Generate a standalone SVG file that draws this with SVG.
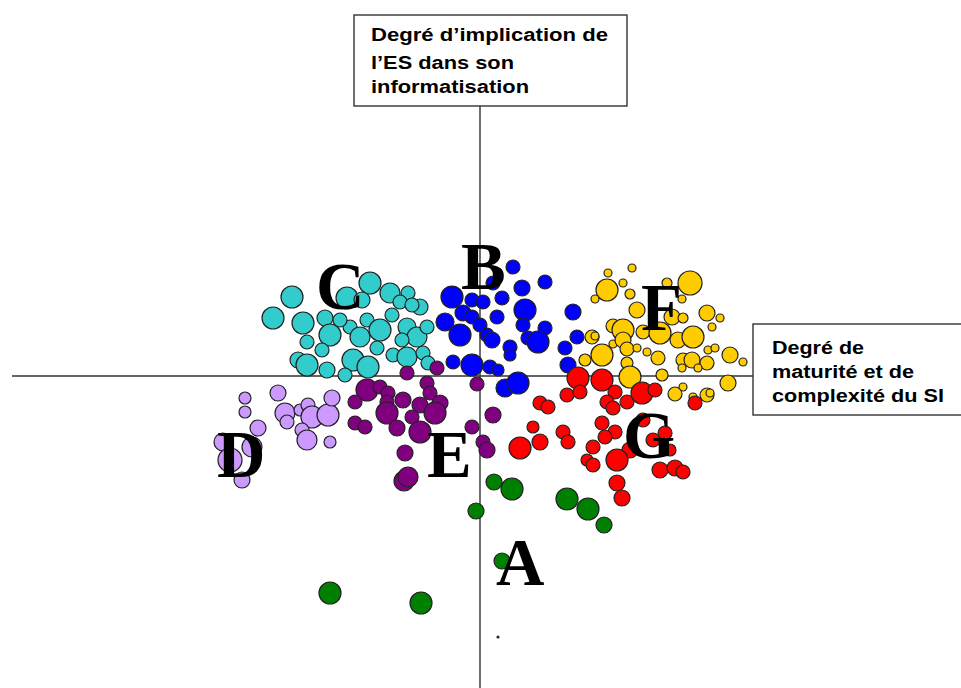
<svg xmlns="http://www.w3.org/2000/svg" width="961" height="688" viewBox="0 0 961 688">
  <style>
    .axis { stroke: #333; stroke-width: 1.4; fill: none; }
    .box { fill: #fff; stroke: #333; stroke-width: 1.4; }
    .lbl { font-family: "Liberation Sans", Arial, sans-serif; font-weight: bold; fill: #000; }
    .cl { font-family: "Liberation Serif", "Times New Roman", serif; font-weight: bold; font-size: 67px; fill: #000; }
    circle { stroke: #222; stroke-width: 1.2; }
    .cy circle { fill: #33CCCC; }
    .bl circle { fill: #0000FF; }
    .ye circle { fill: #FFCC00; }
    .rd circle { fill: #FF0000; }
    .gr circle { fill: #008000; }
    .pu circle { fill: #800080; }
    .li circle { fill: #CC99FF; }
  </style>

  <!-- axes -->
  <g id="axes">
    <line class="axis" x1="12" y1="376" x2="753" y2="376"/>
    <line class="axis" x1="480" y1="106" x2="480" y2="688"/>
  </g>

  <!-- cluster C -->
  <g id="cluster-C" class="cy">
    <circle cx="292" cy="297" r="11"/>
    <circle cx="273" cy="318" r="11"/>
    <circle cx="303" cy="323" r="11"/>
    <circle cx="370" cy="283" r="11"/>
    <circle cx="347" cy="298" r="11"/>
    <circle cx="362" cy="300" r="8"/>
    <circle cx="390" cy="293" r="10"/>
    <circle cx="408" cy="293" r="7"/>
    <circle cx="400" cy="302" r="7"/>
    <circle cx="420" cy="307" r="8"/>
    <circle cx="325" cy="318" r="8"/>
    <circle cx="330" cy="335" r="11"/>
    <circle cx="350" cy="327" r="7"/>
    <circle cx="367" cy="320" r="7"/>
    <circle cx="360" cy="337" r="10"/>
    <circle cx="380" cy="330" r="11"/>
    <circle cx="392" cy="315" r="7"/>
    <circle cx="407" cy="327" r="9"/>
    <circle cx="417" cy="337" r="10"/>
    <circle cx="427" cy="327" r="7"/>
    <circle cx="307" cy="342" r="7"/>
    <circle cx="322" cy="350" r="7"/>
    <circle cx="298" cy="360" r="8"/>
    <circle cx="307" cy="365" r="11"/>
    <circle cx="327" cy="370" r="8"/>
    <circle cx="353" cy="360" r="11"/>
    <circle cx="368" cy="367" r="11"/>
    <circle cx="377" cy="348" r="7"/>
    <circle cx="402" cy="340" r="7"/>
    <circle cx="393" cy="355" r="7"/>
    <circle cx="407" cy="357" r="10"/>
    <circle cx="423" cy="353" r="7"/>
    <circle cx="428" cy="363" r="7"/>
    <circle cx="345" cy="375" r="7"/>
    <circle cx="340" cy="320" r="7"/>
    <circle cx="412" cy="305" r="7"/>
  </g>

  <!-- cluster B -->
  <g id="cluster-B" class="bl">
    <circle cx="513" cy="267" r="7"/>
    <circle cx="493" cy="283" r="7"/>
    <circle cx="522" cy="288" r="8"/>
    <circle cx="545" cy="282" r="7"/>
    <circle cx="452" cy="297" r="11"/>
    <circle cx="472" cy="300" r="7"/>
    <circle cx="483" cy="302" r="7"/>
    <circle cx="502" cy="298" r="7"/>
    <circle cx="525" cy="310" r="11"/>
    <circle cx="463" cy="313" r="8"/>
    <circle cx="445" cy="322" r="9"/>
    <circle cx="472" cy="317" r="7"/>
    <circle cx="497" cy="317" r="7"/>
    <circle cx="480" cy="325" r="7"/>
    <circle cx="460" cy="335" r="11"/>
    <circle cx="487" cy="335" r="7"/>
    <circle cx="492" cy="340" r="8"/>
    <circle cx="523" cy="325" r="7"/>
    <circle cx="545" cy="328" r="7"/>
    <circle cx="528" cy="338" r="7"/>
    <circle cx="538" cy="342" r="11"/>
    <circle cx="573" cy="312" r="8"/>
    <circle cx="577" cy="337" r="7"/>
    <circle cx="565" cy="348" r="7"/>
    <circle cx="568" cy="365" r="8"/>
    <circle cx="510" cy="347" r="7"/>
    <circle cx="510" cy="355" r="6"/>
    <circle cx="453" cy="362" r="7"/>
    <circle cx="472" cy="365" r="11"/>
    <circle cx="490" cy="367" r="7"/>
    <circle cx="498" cy="370" r="6"/>
    <circle cx="505" cy="388" r="9"/>
    <circle cx="518" cy="383" r="11"/>
  </g>

  <!-- cluster F -->
  <g id="cluster-F" class="ye">
    <circle cx="632" cy="268" r="4"/>
    <circle cx="608" cy="273" r="4"/>
    <circle cx="690" cy="283" r="12"/>
    <circle cx="623" cy="283" r="4"/>
    <circle cx="607" cy="290" r="11"/>
    <circle cx="630" cy="294" r="5"/>
    <circle cx="595" cy="299" r="4"/>
    <circle cx="667" cy="283" r="5"/>
    <circle cx="637" cy="310" r="8"/>
    <circle cx="682" cy="299" r="4"/>
    <circle cx="707" cy="313" r="8"/>
    <circle cx="720" cy="318" r="4"/>
    <circle cx="712" cy="327" r="4"/>
    <circle cx="613" cy="326" r="7"/>
    <circle cx="623" cy="330" r="11"/>
    <circle cx="643" cy="332" r="7"/>
    <circle cx="672" cy="317" r="8"/>
    <circle cx="683" cy="318" r="5"/>
    <circle cx="660" cy="333" r="11"/>
    <circle cx="678" cy="340" r="8"/>
    <circle cx="693" cy="337" r="11"/>
    <circle cx="592" cy="337" r="7"/>
    <circle cx="595" cy="336" r="4"/>
    <circle cx="613" cy="344" r="4"/>
    <circle cx="623" cy="340" r="8"/>
    <circle cx="602" cy="355" r="11"/>
    <circle cx="585" cy="360" r="6"/>
    <circle cx="627" cy="349" r="7"/>
    <circle cx="637" cy="348" r="4"/>
    <circle cx="647" cy="352" r="4"/>
    <circle cx="658" cy="358" r="7"/>
    <circle cx="627" cy="363" r="6"/>
    <circle cx="683" cy="360" r="7"/>
    <circle cx="692" cy="360" r="8"/>
    <circle cx="707" cy="363" r="7"/>
    <circle cx="708" cy="350" r="4"/>
    <circle cx="715" cy="348" r="4"/>
    <circle cx="730" cy="355" r="8"/>
    <circle cx="743" cy="362" r="4"/>
    <circle cx="682" cy="368" r="4"/>
    <circle cx="698" cy="368" r="4"/>
    <circle cx="662" cy="375" r="6"/>
    <circle cx="630" cy="377" r="11"/>
    <circle cx="728" cy="383" r="8"/>
    <circle cx="683" cy="387" r="4"/>
    <circle cx="675" cy="394" r="7"/>
    <circle cx="693" cy="397" r="4"/>
    <circle cx="707" cy="395" r="7"/>
    <circle cx="710" cy="393" r="4"/>
  </g>

  <!-- cluster G -->
  <g id="cluster-G" class="rd">
    <circle cx="578" cy="378" r="11"/>
    <circle cx="602" cy="380" r="11"/>
    <circle cx="567" cy="395" r="7"/>
    <circle cx="580" cy="392" r="7"/>
    <circle cx="540" cy="403" r="7"/>
    <circle cx="548" cy="407" r="7"/>
    <circle cx="615" cy="392" r="7"/>
    <circle cx="607" cy="402" r="7"/>
    <circle cx="627" cy="402" r="7"/>
    <circle cx="642" cy="393" r="11"/>
    <circle cx="613" cy="408" r="7"/>
    <circle cx="655" cy="390" r="7"/>
    <circle cx="695" cy="403" r="7"/>
    <circle cx="643" cy="420" r="7"/>
    <circle cx="602" cy="423" r="7"/>
    <circle cx="615" cy="432" r="7"/>
    <circle cx="605" cy="437" r="7"/>
    <circle cx="563" cy="432" r="7"/>
    <circle cx="568" cy="442" r="7"/>
    <circle cx="533" cy="427" r="6"/>
    <circle cx="540" cy="442" r="8"/>
    <circle cx="520" cy="448" r="11"/>
    <circle cx="593" cy="447" r="7"/>
    <circle cx="587" cy="460" r="6"/>
    <circle cx="593" cy="465" r="7"/>
    <circle cx="630" cy="450" r="8"/>
    <circle cx="617" cy="460" r="11"/>
    <circle cx="653" cy="440" r="7"/>
    <circle cx="665" cy="433" r="7"/>
    <circle cx="670" cy="450" r="6"/>
    <circle cx="660" cy="470" r="8"/>
    <circle cx="675" cy="468" r="8"/>
    <circle cx="683" cy="472" r="7"/>
    <circle cx="617" cy="483" r="8"/>
    <circle cx="622" cy="498" r="8"/>
  </g>

  <!-- cluster D -->
  <g id="cluster-D" class="li">
    <circle cx="278" cy="393" r="8"/>
    <circle cx="245" cy="398" r="6"/>
    <circle cx="245" cy="412" r="6"/>
    <circle cx="285" cy="413" r="10"/>
    <circle cx="287" cy="422" r="7"/>
    <circle cx="300" cy="410" r="6"/>
    <circle cx="308" cy="405" r="7"/>
    <circle cx="312" cy="417" r="11"/>
    <circle cx="328" cy="415" r="11"/>
    <circle cx="332" cy="398" r="8"/>
    <circle cx="302" cy="430" r="7"/>
    <circle cx="307" cy="440" r="10"/>
    <circle cx="330" cy="442" r="6"/>
    <circle cx="258" cy="428" r="8"/>
    <circle cx="252" cy="447" r="10"/>
    <circle cx="223" cy="442" r="9"/>
    <circle cx="230" cy="460" r="12"/>
    <circle cx="242" cy="480" r="8"/>
  </g>

  <!-- cluster E -->
  <g id="cluster-E" class="pu">
    <circle cx="407" cy="373" r="7"/>
    <circle cx="437" cy="368" r="7"/>
    <circle cx="367" cy="390" r="11"/>
    <circle cx="380" cy="387" r="7"/>
    <circle cx="388" cy="393" r="7"/>
    <circle cx="387" cy="402" r="7"/>
    <circle cx="403" cy="400" r="8"/>
    <circle cx="355" cy="402" r="7"/>
    <circle cx="427" cy="383" r="7"/>
    <circle cx="430" cy="393" r="7"/>
    <circle cx="420" cy="405" r="8"/>
    <circle cx="440" cy="403" r="8"/>
    <circle cx="435" cy="413" r="11"/>
    <circle cx="387" cy="413" r="11"/>
    <circle cx="412" cy="417" r="7"/>
    <circle cx="355" cy="423" r="7"/>
    <circle cx="365" cy="427" r="7"/>
    <circle cx="397" cy="428" r="8"/>
    <circle cx="420" cy="432" r="11"/>
    <circle cx="472" cy="427" r="7"/>
    <circle cx="477" cy="384" r="7"/>
    <circle cx="493" cy="415" r="8"/>
    <circle cx="483" cy="442" r="7"/>
    <circle cx="487" cy="450" r="8"/>
    <circle cx="405" cy="453" r="8"/>
    <circle cx="404" cy="481" r="10"/>
    <circle cx="408" cy="477" r="10"/>
  </g>

  <!-- cluster A -->
  <g id="cluster-A" class="gr">
    <circle cx="494" cy="482" r="8"/>
    <circle cx="512" cy="489" r="11"/>
    <circle cx="567" cy="499" r="11"/>
    <circle cx="588" cy="509" r="11"/>
    <circle cx="604" cy="525" r="8"/>
    <circle cx="476" cy="511" r="8"/>
    <circle cx="502" cy="561" r="8"/>
    <circle cx="330" cy="593" r="11"/>
    <circle cx="421" cy="603" r="11"/>
    <circle cx="498" cy="637" r="1" stroke="none"/>
  </g>

  <!-- cluster letters -->
  <g id="letters">
    <text class="cl" x="316" y="309">C</text>
    <text class="cl" x="461" y="289">B</text>
    <text class="cl" x="641" y="330">F</text>
    <text class="cl" x="217" y="477">D</text>
    <text class="cl" x="427" y="477">E</text>
    <text class="cl" x="623" y="458">G</text>
    <text class="cl" x="496" y="585">A</text>
  </g>

  <!-- vertical axis title -->
  <g id="title-y">
    <rect class="box" x="354" y="15" width="273" height="91"/>
    <text class="lbl" font-size="17.5" x="371" y="41" textLength="237" lengthAdjust="spacingAndGlyphs">Degré d’implication de</text>
    <text class="lbl" font-size="17.5" x="371" y="69" textLength="143" lengthAdjust="spacingAndGlyphs">l’ES dans son</text>
    <text class="lbl" font-size="17.5" x="371" y="93" textLength="158" lengthAdjust="spacingAndGlyphs">informatisation</text>
  </g>

  <!-- horizontal axis title -->
  <g id="title-x">
    <rect class="box" x="753" y="324" width="215" height="91"/>
    <text class="lbl" font-size="17.5" x="772" y="354" textLength="92" lengthAdjust="spacingAndGlyphs">Degré de</text>
    <text class="lbl" font-size="17.5" x="772" y="378" textLength="142" lengthAdjust="spacingAndGlyphs">maturité et de</text>
    <text class="lbl" font-size="17.5" x="772" y="402" textLength="172" lengthAdjust="spacingAndGlyphs">complexité du SI</text>
  </g>
</svg>
